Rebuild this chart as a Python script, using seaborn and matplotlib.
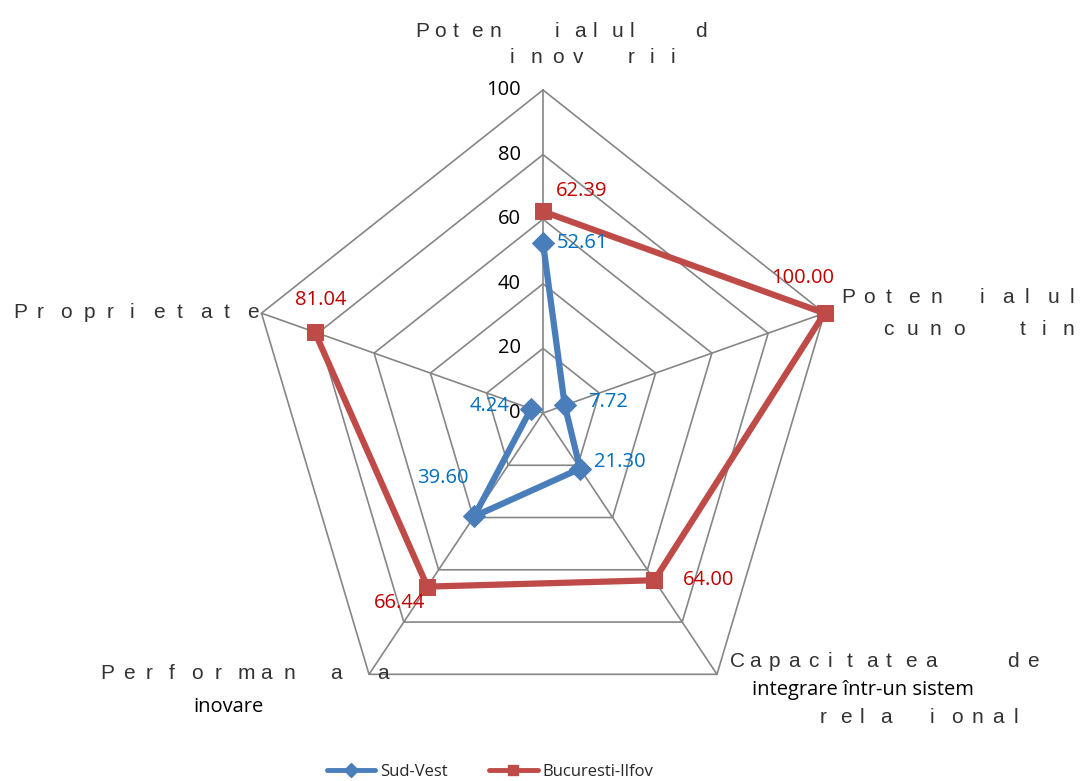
import numpy as np
import pandas as pd
import matplotlib
matplotlib.use("Agg")
import matplotlib.pyplot as plt
from matplotlib.lines import Line2D
import seaborn as sns

# categories, clockwise starting at the top
categories = ["Potentialul de inovarii", "Potentialul cunoastere",
              "Capacitatea de integrare", "Performanta inovare", "Proprietate"]
sud_vest = [52.61, 7.72, 21.30, 39.60, 4.24]
buc_ilfov = [62.39, 100.00, 64.00, 66.44, 81.04]
r_ticks = [0, 20, 40, 60, 80, 100]

sns.set_theme(style="white")
plt.rcParams['font.family'] = ['Open Sans', 'DejaVu Sans']

W, H = 1081, 781
cx, cy = 543, 413          # centre in pixels
sx, sy = 2.96, 3.23        # pixels per unit

fig = plt.figure(figsize=(W / 100, H / 100), dpi=100)
ax = fig.add_axes([0, 0, 1, 1])
ax.set_xlim(-cx / sx, (W - cx) / sx)
ax.set_ylim(-(H - cy) / sy, cy / sy)
ax.axis("off")

n = len(categories)
theta = np.arange(n) * 2 * np.pi / n


def to_xy(vals):
    v = np.asarray(vals, dtype=float)
    return v * np.sin(theta), v * np.cos(theta)


grid_col = "#868686"
for r in r_ticks[1:]:
    gx, gy = to_xy([r] * n)
    ax.plot(np.append(gx, gx[0]), np.append(gy, gy[0]), color=grid_col, lw=1.2, zorder=1)
ox, oy = to_xy([100] * n)
for i in range(n):
    ax.plot([0, ox[i]], [0, oy[i]], color=grid_col, lw=1.2, zorder=1)

fs_num = 14.5
for r in r_ticks:
    ax.text(-7.5, r, str(r), ha="right", va="center", fontsize=fs_num, color="black")

series = [("Sud-Vest", sud_vest, "#4a7ebb", "D", 11, "#0070c0"),
          ("Bucuresti-Ilfov", buc_ilfov, "#be4b48", "s", 12, "#c00000")]

for name, vals, col, mk, ms, tcol in series:
    x, y = to_xy(vals)
    df = pd.DataFrame({"x": np.append(x, x[0]), "y": np.append(y, y[0])})
    sns.lineplot(data=df, x="x", y="y", sort=False, color=col, lw=4.5,
                 marker=mk, markersize=ms, markeredgecolor=col, ax=ax, zorder=3)

# data label offsets in pixels (dx, dy up) and alignment
offs_sv = [(14, 0, "left"), (23, 3, "left"), (14, 7, "left"), (-6, 38, "right"), (-22, 3, "right")]
offs_bi = [(13, 20, "left"), (-22, 35, "center"), (29, 0, "left"), (-2, -16, "right"), (6, 32, "center")]
for (name, vals, col, mk, ms, tcol), offs in zip(series, [offs_sv, offs_bi]):
    x, y = to_xy(vals)
    for i in range(n):
        dx, dy, ha = offs[i]
        ax.annotate(f"{vals[i]:.2f}", (x[i], y[i]), xytext=(dx * 0.72, dy * 0.72),
                    textcoords="offset points", ha=ha, va="center", color=tcol,
                    fontsize=fs_num)

# category labels, letter-spaced as in the original (pixel positions)
cat_col = "#333333"
cat_font = ['Liberation Sans Narrow', 'Liberation Sans', 'DejaVu Sans']


def spaced(groups, base):
    for x0, pitch, word in groups:
        for k, ch in enumerate(word):
            fig.text((x0 + k * pitch) / W, 1 - base / H, ch, ha="left", va="baseline",
                     fontsize=15, color=cat_col, family=cat_font)


def plain(px, base, s):
    fig.text(px / W, 1 - base / H, s, ha="left", va="baseline", fontsize=14.5, color="black")


spaced([(415, 18.75, "Poten"), (555, 18.75, "ialul"), (695, 0, "d")], 37)
spaced([(510, 21, "inov"), (628, 21.5, "rii")], 63)
spaced([(841, 22.5, "Poten"), (980, 22.5, "ialul")], 303)
spaced([(883, 23.5, "cuno"), (1020, 21.5, "tin")], 335)
spaced([(730, 19.5, "Capacitatea"), (1007, 20, "de")], 667)
plain(752, 695, "integrare într-un sistem")
spaced([(820, 20, "rela"), (930, 20.8, "ional")], 723)
spaced([(100, 22.9, "Performan"), (330, 0, "a"), (377, 0, "a")], 679)
plain(193, 712, "inovare")
spaced([(13, 23.4, "Proprietate")], 318)

handles = [Line2D([], [], color=s[2], lw=3.5, marker=s[3], markersize=7) for s in series]
fig.legend(handles, [s[0] for s in series], loc="center", bbox_to_anchor=(490 / W, 1 - 772 / H),
           ncol=2, frameon=False, handlelength=2.9, handletextpad=0.3, columnspacing=2.5,
           prop={"size": 12})

fig.savefig("out.png", dpi=100)
